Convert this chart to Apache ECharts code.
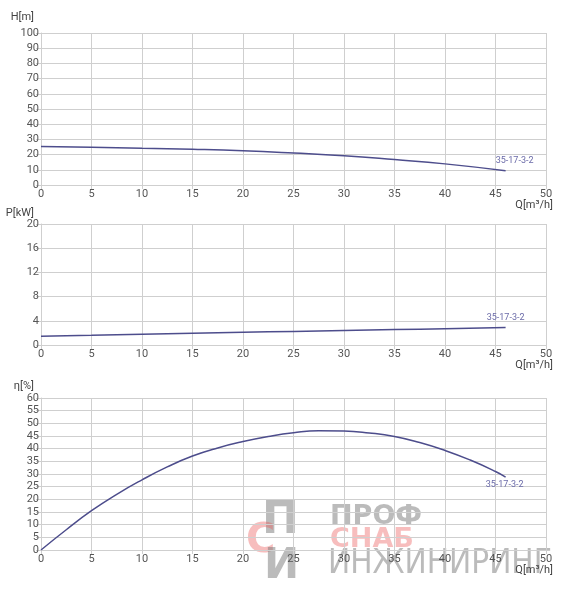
<!DOCTYPE html>
<html><head><meta charset="utf-8">
<script src="https://cdn.jsdelivr.net/npm/echarts@6/dist/echarts.min.js"></script>
<style>html,body{margin:0;padding:0;background:#fff}#c{width:563px;height:600px}</style>
</head><body><div id="c"></div>
<script>
var pumpName = '35-17-3-2';
var headQ = [0, 5, 10, 15, 20, 25, 30, 35, 40, 46];
var headH = [25.3, 24.9, 24.2, 23.5, 22.5, 21, 19.2, 16.7, 13.9, 9.4];
var powerQ = [0, 5, 10, 15, 20, 25, 30, 35, 40, 46];
var powerP = [1.45, 1.6, 1.78, 1.95, 2.1, 2.25, 2.4, 2.55, 2.7, 2.9];
var effQ = [0, 2.5, 5, 7.5, 10, 12.5, 15, 17.5, 20, 22.5, 25, 27.5, 30, 32.5, 35, 37.5, 40, 42.5, 45, 46];
var effE = [0, 8, 15.5, 22, 27.7, 32.8, 37.1, 40.3, 42.8, 44.8, 46.3, 47.1, 47, 46.2, 44.8, 42.4, 39.3, 35.5, 31, 28.8];
var xTicks = [0, 5, 10, 15, 20, 25, 30, 35, 40, 45, 50];

function pairs(xs, ys){ return xs.map(function(x,i){ return [x, ys[i]]; }); }

var lineColor = '#4d4d8c';
var labelColor = '#6a6aa8';
var gridColor = '#cfcfcf';
var textColor = '#555';
var font = 'Roboto';

function xAx(i){
  return {
    type:'value', gridIndex:i, min:0, max:50, interval:5,
    name:'Q[m³/h]', nameLocation:'end', nameGap:7,
    nameTextStyle:{color:'#444', fontSize:11, fontFamily:font, align:'right', verticalAlign:'top', padding:[15,0,0,0]},
    axisLine:{show:true, lineStyle:{color:gridColor}},
    axisTick:{show:true, length:4, lineStyle:{color:gridColor}},
    axisLabel:{color:textColor, fontSize:11, fontFamily:font, margin:4},
    splitLine:{show:true, lineStyle:{color:gridColor}}
  };
}
function yAx(i, max, interval, name, gap){
  return {
    type:'value', gridIndex:i, min:0, max:max, interval:interval,
    name:name, nameLocation:'end', nameGap:gap,
    nameTextStyle:{color:'#444', fontSize:11, fontFamily:font, align:'right', verticalAlign:'middle', padding:[0,7,0,0]},
    axisLine:{show:true, lineStyle:{color:gridColor}},
    axisTick:{show:true, length:5, lineStyle:{color:gridColor}},
    axisLabel:{color:textColor, fontSize:11, fontFamily:font, margin:2},
    splitLine:{show:true, lineStyle:{color:gridColor}}
  };
}
function ser(i, data, offset){
  return {
    type:'line', xAxisIndex:i, yAxisIndex:i, smooth:true, symbol:'none', showSymbol:false,
    lineStyle:{color:lineColor, width:1.5},
    data:data, silent:true, animation:false,
    markPoint:{
      silent:true, animation:false,
      data:[{coord:data[data.length-1], symbol:'circle', symbolSize:0,
        label:{show:true, formatter:pumpName, color:labelColor, fontSize:9, fontFamily:font, position:'inside', offset:offset}}]
    }
  };
}

var chart = echarts.init(document.getElementById('c'));
chart.setOption({
  animation:false,
  grid:[
    {left:41, right:17, top:33, height:152},
    {left:41, right:17, top:224, height:121},
    {left:41, right:17, top:398, height:152}
  ],
  xAxis:[xAx(0), xAx(1), xAx(2)],
  yAxis:[yAx(0,100,10,'H[m]',16), yAx(1,20,4,'P[kW]',11), yAx(2,60,5,'η[%]',12)],
  series:[
    ser(0, pairs(headQ, headH), [9,-10]),
    ser(1, pairs(powerQ, powerP), [0,-10]),
    ser(2, pairs(effQ, effE), [-1,8])
  ],
  graphic:[
    {type:'text', left:262, top:500, silent:true, style:{text:'П', fontSize:44, fontWeight:'bold', fontFamily:'DejaVu Sans', fill:'rgba(120,120,120,0.5)'}},
    {type:'text', left:246, top:522, silent:true, style:{text:'С', fontSize:40, fontWeight:'bold', fontFamily:'DejaVu Sans', fill:'rgba(235,90,90,0.4)'}},
    {type:'text', left:264, top:546, silent:true, style:{text:'И', fontSize:42, fontWeight:'bold', fontFamily:'DejaVu Sans', fill:'rgba(120,120,120,0.5)'}},
    {type:'text', left:330, top:503, silent:true, style:{text:'ПРОФ', fontSize:27, fontWeight:'bold', fontFamily:'DejaVu Sans', fill:'rgba(120,120,120,0.5)'}},
    {type:'text', left:330, top:526, silent:true, style:{text:'СНАБ', fontSize:27, fontWeight:'bold', fontFamily:'DejaVu Sans', fill:'rgba(235,90,90,0.4)'}},
    {type:'text', left:328, top:548, silent:true, style:{text:'ИНЖИНИРИНГ', fontSize:33, fontFamily:'DejaVu Sans Condensed', fill:'rgba(120,120,120,0.5)'}}
  ]
});
</script></body></html>
